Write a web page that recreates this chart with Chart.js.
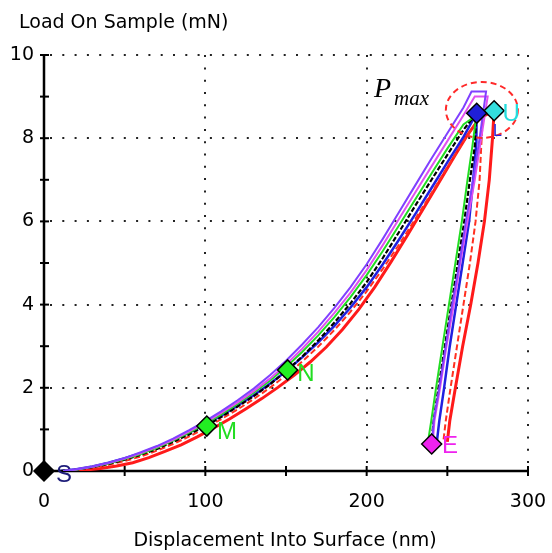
<!DOCTYPE html>
<html><head><meta charset="utf-8">
<script src="https://cdn.jsdelivr.net/npm/chart.js@4.4.1/dist/chart.umd.min.js"></script>
<style>html,body{margin:0;padding:0;background:#fff;}#wrap{width:552px;height:553px;}</style>
</head><body><div id="wrap"><canvas id="c" width="552" height="553"></canvas></div>
<script>
// ---------- data (displacement nm, load mN) ----------
const xMajorTicks = [0, 100, 200, 300];
const xMinorTicks = [50, 150, 250];
const yMajorTicks = [0, 2, 4, 6, 8, 10];
const yMinorTicks = [1, 3, 5, 7, 9];

const purpleCurve = [[12,0],[20,0.04],[30,0.11],[40,0.2],[50,0.31],[60,0.45],[70,0.6],[80,0.78],[90,0.98],[100,1.2],[110,1.44],[120,1.7],[130,1.98],[140,2.3],[150,2.65],[160,3.04],[170,3.46],[180,3.92],[190,4.42],[200,4.97],[210,5.58],[220,6.22],[230,6.86],[240,7.5],[250,8.12],[260,8.74],[265,9.12],[274,9.12],
  [270,8],[266,7],[261.5,6],[257.5,5],[253,4],[249,3],[245,2],[241.5,1.2],[240.5,0.7]];
const violetCurve = [[12,0],[20,0.035],[30,0.1],[40,0.19],[50,0.3],[60,0.43],[70,0.58],[80,0.75],[90,0.95],[100,1.16],[110,1.4],[120,1.65],[130,1.92],[140,2.22],[150,2.56],[160,2.94],[170,3.35],[180,3.8],[190,4.29],[200,4.83],[210,5.43],[220,6.06],[230,6.69],[240,7.31],[250,7.93],[260,8.55],[267,9.0],[275,9.0],
  [271,8],[267,7],[262.5,6],[258,5],[254,4],[249.5,3],[245.5,2],[242,1.2],[241,0.7]];
const greenCurve = [[12,0],[20,0.03],[30,0.1],[40,0.18],[50,0.29],[60,0.41],[70,0.56],[80,0.73],[90,0.92],[100,1.13],[110,1.36],[120,1.61],[130,1.88],[140,2.17],[150,2.5],[160,2.86],[170,3.26],[180,3.7],[190,4.18],[200,4.71],[210,5.29],[220,5.9],[230,6.52],[240,7.14],[250,7.75],[260,8.33],[268,8.55],
  [265.5,7.8],[262.5,7],[259,6],[255,5],[251,4],[247,3],[243,2],[240,1.2],[238,0.7]];
const blackCurve = [[10,0],[20,0.03],[30,0.09],[40,0.17],[50,0.27],[60,0.39],[70,0.53],[80,0.7],[90,0.88],[100,1.08],[110,1.3],[120,1.55],[130,1.8],[140,2.08],[150,2.4],[160,2.75],[170,3.14],[180,3.57],[190,4.03],[200,4.54],[210,5.12],[220,5.74],[230,6.37],[240,6.99],[250,7.6],[260,8.2],[268,8.6],
  [267,7.8],[264,7],[260.5,6],[256.5,5],[252.5,4],[248.5,3],[244.5,2],[241.5,1.2],[240,0.65]];
const blueCurve = [[10,0],[20,0.04],[30,0.11],[40,0.2],[50,0.31],[60,0.43],[70,0.58],[80,0.74],[90,0.92],[100,1.12],[110,1.33],[120,1.57],[130,1.82],[140,2.1],[150,2.4],[160,2.73],[170,3.09],[180,3.49],[190,3.93],[200,4.42],[210,4.97],[220,5.56],[230,6.17],[240,6.79],[250,7.42],[260,8.03],[268.2,8.6],
  [268,7.9],[266,7],[263.5,6],[259.5,5],[255.5,4],[251.5,3],[248,2],[245,1.2],[243.5,0.7]];
const redDashCurve = [[12,0],[20,0.02],[30,0.08],[40,0.15],[50,0.24],[60,0.35],[70,0.49],[80,0.65],[90,0.83],[100,1.03],[110,1.25],[120,1.48],[130,1.73],[140,2.0],[150,2.3],[160,2.63],[170,2.99],[180,3.39],[190,3.83],[200,4.32],[210,4.86],[220,5.44],[230,6.05],[240,6.67],[250,7.3],[260,7.92],[268,8.38],[272,8.5],
  [271,7.8],[270,7],[267.5,6],[264,5],[260,4],[256,3],[252,2],[249,1.2],[247.5,0.7]];
const redCurve = [[15,0],[25,0.02],[35,0.06],[45,0.12],[55,0.2],[65,0.32],[75,0.47],[85,0.63],[95,0.82],[105,1.03],[115,1.25],[125,1.49],[135,1.74],[145,2.01],[155,2.3],[165,2.62],[175,2.98],[185,3.4],[195,3.88],[205,4.42],[215,5.02],[225,5.65],[235,6.3],[245,6.95],[255,7.6],[262,8.05],[270,8.48],[279,8.66],
  [278,8.0],[276,7],[273,6],[269,5],[264.5,4],[259.5,3],[255,2],[251.5,1.2],[250,0.7]];

// key points: S, M, N, E, peak (blue), U (cyan)
const markerNames = ['S', 'M', 'N', 'E', 'P', 'U'];
const markerX = [0, 100.9, 151, 240.3, 268.2, 279];
const markerY = [0, 1.08, 2.43, 0.65, 8.6, 8.66];
const markerColors = ['#000000', '#22ee22', '#22ee22', '#ee22ee', '#1f1fd8', '#33dede'];

// text labels next to the points
const labelText = ['S', 'M', 'N', 'E', 'U', 'L'];
const labelX = [12.4, 113.5, 162.4, 251.7, 289.5, 281];
const labelY = [-0.1, 0.94, 2.32, 0.58, 8.58, 8.15];
const labelColors = ['#1c1c78', '#22dd22', '#22dd22', '#ee22ee', '#22dddd', '#2222dd'];
const labelSizes = [24, 24, 24, 24, 24, 16];

const pmaxCenter = [271.4, 8.68];

// ---------- chart ----------
const toXY = arr => arr.map(p => ({x: p[0], y: p[1]}));
const curve = (data, color, width, dash) => ({
  data: toXY(data), showLine: true, borderColor: color, borderWidth: width,
  borderDash: dash || [], pointRadius: 0, fill: false, tension: 0
});
const markerSets = markerNames.map((n, i) => ({
  data: [{x: markerX[i], y: markerY[i]}], showLine: false, pointStyle: 'rectRot',
  pointRadius: 10, pointBackgroundColor: markerColors[i], pointBorderColor: '#000',
  pointBorderWidth: 1.5, clip: false
}));

const deco = {
  id: 'deco',
  beforeDatasetsDraw(chart) {
    const {ctx, scales: {x, y}} = chart;
    const L = x.getPixelForValue(0), R = x.getPixelForValue(300);
    const B = y.getPixelForValue(0), T = y.getPixelForValue(10);
    ctx.save();
    // dotted grid
    ctx.strokeStyle = '#222'; ctx.lineWidth = 2; ctx.setLineDash([2, 10.3]);
    yMajorTicks.filter(v => v > 0).forEach(v => {
      const py = Math.round(y.getPixelForValue(v));
      ctx.beginPath(); ctx.moveTo(L + 6, py); ctx.lineTo(R, py); ctx.stroke();
    });
    xMajorTicks.filter(v => v > 0).forEach(v => {
      const px = Math.round(x.getPixelForValue(v));
      ctx.beginPath(); ctx.moveTo(px, B - 8); ctx.lineTo(px, T); ctx.stroke();
    });
    ctx.setLineDash([]);
    // axes
    ctx.strokeStyle = '#000'; ctx.lineWidth = 2.5;
    ctx.beginPath(); ctx.moveTo(L, T); ctx.lineTo(L, B); ctx.lineTo(R, B); ctx.stroke();
    ctx.lineWidth = 2;
    yMajorTicks.concat(yMinorTicks).forEach(v => {
      const py = y.getPixelForValue(v);
      ctx.beginPath(); ctx.moveTo(L - 4, py); ctx.lineTo(L + 5, py); ctx.stroke();
    });
    xMajorTicks.concat(xMinorTicks).filter(v => v > 0).forEach(v => {
      const px = x.getPixelForValue(v);
      ctx.beginPath(); ctx.moveTo(px, B - 5); ctx.lineTo(px, B + 5); ctx.stroke();
    });
    // titles
    ctx.fillStyle = '#000';
    ctx.font = '19px "DejaVu Sans"';
    ctx.textAlign = 'left'; ctx.textBaseline = 'alphabetic';
    ctx.fillText('Load On Sample (mN)', 19, 28);
    ctx.textAlign = 'center';
    ctx.fillText('Displacement Into Surface (nm)', 285, 546);
    ctx.restore();
  },
  afterDatasetsDraw(chart) {
    const {ctx, scales: {x, y}} = chart;
    ctx.save();
    // dashed circle around Pmax
    ctx.strokeStyle = '#ff2a2a'; ctx.lineWidth = 2; ctx.setLineDash([6, 4]);
    ctx.beginPath();
    ctx.ellipse(x.getPixelForValue(pmaxCenter[0]), y.getPixelForValue(pmaxCenter[1]), 36, 28, 0, 0, Math.PI * 2);
    ctx.stroke();
    ctx.setLineDash([]);
    // point labels
    ctx.textAlign = 'center'; ctx.textBaseline = 'middle';
    labelText.forEach((t, i) => {
      ctx.font = labelSizes[i] + 'px "Liberation Sans"';
      ctx.fillStyle = labelColors[i];
      ctx.fillText(t, x.getPixelForValue(labelX[i]), y.getPixelForValue(labelY[i]));
    });
    // Pmax text
    ctx.fillStyle = '#000'; ctx.textAlign = 'left'; ctx.textBaseline = 'alphabetic';
    ctx.font = 'italic 28px "Liberation Serif"';
    ctx.fillText('P', 374, 97);
    ctx.font = 'italic 21px "Liberation Serif"';
    ctx.fillText('max', 394, 105);
    ctx.restore();
  }
};

new Chart(document.getElementById('c'), {
  type: 'scatter',
  data: {
    datasets: markerSets.concat([
      curve(purpleCurve, '#8040ff', 2),
      curve(violetCurve, '#e050f0', 2),
      curve(greenCurve, '#22dd22', 2),
      curve(blackCurve, '#000000', 2.2, [5, 2]),
      curve(blueCurve, '#2020e0', 2.5),
      curve(redDashCurve, '#ff3020', 2, [6, 3]),
      curve(redCurve, '#ff1a1a', 3)
    ])
  },
  options: {
    responsive: false, animation: false, devicePixelRatio: 1,
    layout: {padding: {left: 0, top: 55, right: 24, bottom: 0}},
    plugins: {legend: {display: false}, tooltip: {enabled: false}},
    scales: {
      x: {
        type: 'linear', min: 0, max: 300,
        ticks: {stepSize: 100, color: '#000', font: {family: 'DejaVu Sans', size: 19}, padding: 20},
        grid: {display: false, drawTicks: false}, border: {display: false},
        afterFit: s => { s.height = 82; s.paddingLeft = 0; s.paddingRight = 0; }
      },
      y: {
        type: 'linear', min: 0, max: 10,
        ticks: {stepSize: 2, color: '#000', font: {family: 'DejaVu Sans', size: 19}, padding: 10},
        grid: {display: false, drawTicks: false}, border: {display: false},
        afterFit: s => { s.width = 44; s.paddingTop = 0; s.paddingBottom = 0; }
      }
    }
  },
  plugins: [deco]
});
</script></body></html>
